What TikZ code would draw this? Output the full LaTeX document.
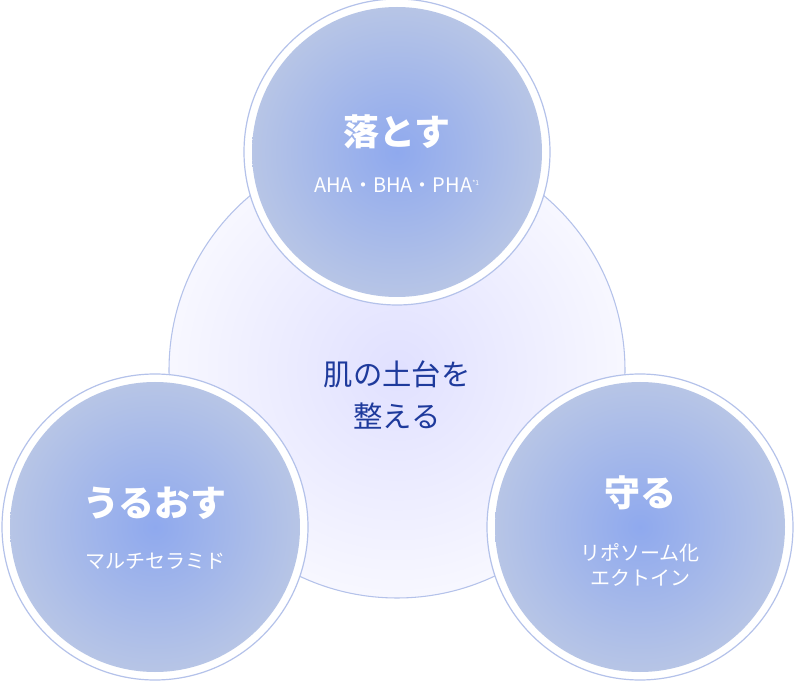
\documentclass[tikz,border=0pt]{standalone}
\usepackage{fontspec}
\setmainfont{Noto Sans CJK JP}
\definecolor{ringline}{HTML}{B4C2EA}
\definecolor{ballin}{HTML}{8FA9EE}
\definecolor{ballout}{HTML}{B7C5E6}
\definecolor{coretext}{HTML}{1E3A9C}
\tikzset{
  ball/.style={circle,minimum size=290*0.75pt,inner sep=0pt,
    inner color=ballin,outer color=ballout,text=white,align=center},
  ring/.style={draw=ringline,line width=0.9pt,fill=white},
  title/.style={font=\fontsize{27}{30}\selectfont\bfseries},
  sub/.style={font=\fontsize{15}{19}\selectfont},
}
\begin{document}
\begin{tikzpicture}[x=0.75pt,y=-0.75pt]
\useasboundingbox (0,0) rectangle (794,681);
% base circle
\shade[inner color=blue!12!white,outer color=blue!3!white] (397,370) circle (228);
\draw[ringline,line width=0.8pt] (397,370) circle (228);
\node[text=coretext,align=center,font=\fontsize{22}{32}\selectfont] (core) at (397,395) {肌の土台を\\整える};
% three balls
\foreach \name/\px/\py in {top/397/152,left/155/527,right/640/527}{
  \draw[ring] (\px,\py) circle (153);
  \node[ball] (\name) at (\px,\py) {};
}
\node[title,text=white] (topt) at (397,132) {落とす};
\node[sub,text=white] (tops) at (397,185) {AHA・BHA・PHA\textsuperscript{\tiny *1}};
\node[title,text=white] (leftt) at (155,503) {うるおす};
\node[sub,text=white] (lefts) at (155,561) {マルチセラミド};
\node[title,text=white] (rightt) at (640,493) {守る};
\node[sub,text=white,align=center] (rights) at (640,565) {リポソーム化\\エクトイン};
\end{tikzpicture}
\end{document}
